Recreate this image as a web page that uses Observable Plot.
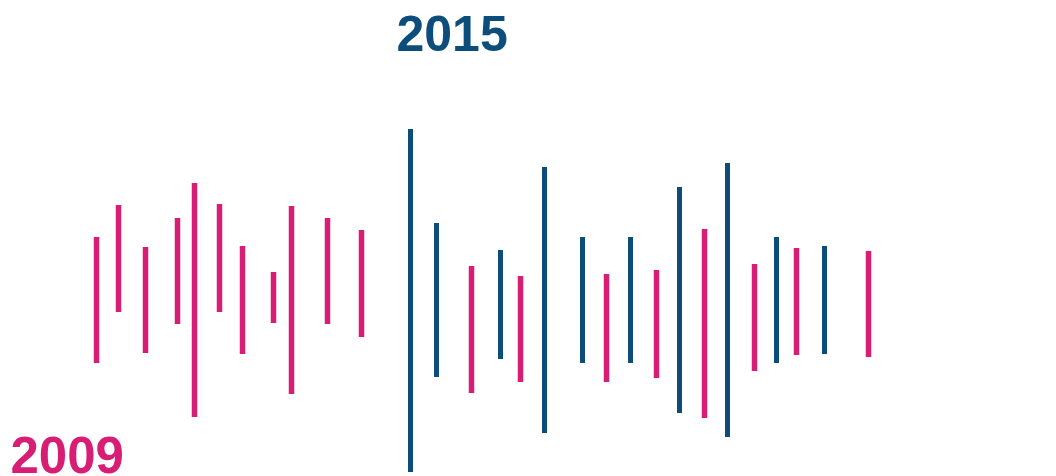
<!DOCTYPE html>
<html>
<head>
<meta charset="utf-8">
<script src="https://cdn.jsdelivr.net/npm/d3@7"></script>
<script src="https://cdn.jsdelivr.net/npm/@observablehq/plot@0.6"></script>
<style>
  html, body { margin: 0; padding: 0; background: #fff; }
  #chart svg { display: block; }
</style>
</head>
<body>
<div id="chart"></div>
<script>
// Positions along the horizontal axis
const positions = [96,118,145,177,194,219,242,273,291,327,361,
                   410,436,471,500,520,544,582,606,630,656,679,704,727,754,776,796,824,868];
// Upper end of each segment (above the centre line)
const highs = [63,95,53,82,117,96,54,28,94,82,70,
               171,77,34,50,24,133,63,26,63,30,113,71,137,36,63,52,54,49];
// Lower end of each segment (below the centre line)
const lows = [-63,-12,-53,-24,-117,-12,-54,-23,-94,-24,-37,
              -172,-77,-93,-59,-82,-133,-63,-82,-63,-78,-113,-118,-137,-71,-63,-55,-54,-57];
// Series of each segment
const series = ["2009","2009","2009","2009","2009","2009","2009","2009","2009","2009","2009",
                "2015","2015","2009","2015","2009","2015","2015","2009","2015","2009","2015","2009","2015","2009","2015","2009","2015","2009"];
const seriesNames = ["2009", "2015"];
const seriesColors = ["#d81e74", "#0c4d7c"];

const data = positions.map((p, i) => ({x: p, hi: highs[i], lo: lows[i], s: series[i]}));

const chart = Plot.plot({
  width: 1056,
  height: 476,
  margin: 0,
  x: {domain: [0, 1056], axis: null},
  y: {domain: [-176, 300], axis: null},
  color: {domain: seriesNames, range: seriesColors},
  style: {fontFamily: "'Liberation Sans', Arial, sans-serif", background: "#fff"},
  marks: [
    Plot.ruleX(data.filter(d => d.s === "2009"), {x: "x", y1: "lo", y2: "hi", stroke: "s", strokeWidth: 5.5}),
    Plot.ruleX(data.filter(d => d.s === "2015"), {x: "x", y1: "lo", y2: "hi", stroke: "s", strokeWidth: 5}),
    Plot.text([seriesNames[1]], {text: d => d, frameAnchor: "top-left", dx: 396, dy: 15,
      fill: seriesColors[1], fontSize: 50, fontWeight: "bold", lineAnchor: "top"}),
    Plot.text([seriesNames[0]], {text: d => d, frameAnchor: "bottom-left", dx: 10, dy: -4,
      fill: seriesColors[0], fontSize: 51, fontWeight: "bold", lineAnchor: "bottom"})
  ]
});
document.getElementById("chart").append(chart);
</script>
</body>
</html>
